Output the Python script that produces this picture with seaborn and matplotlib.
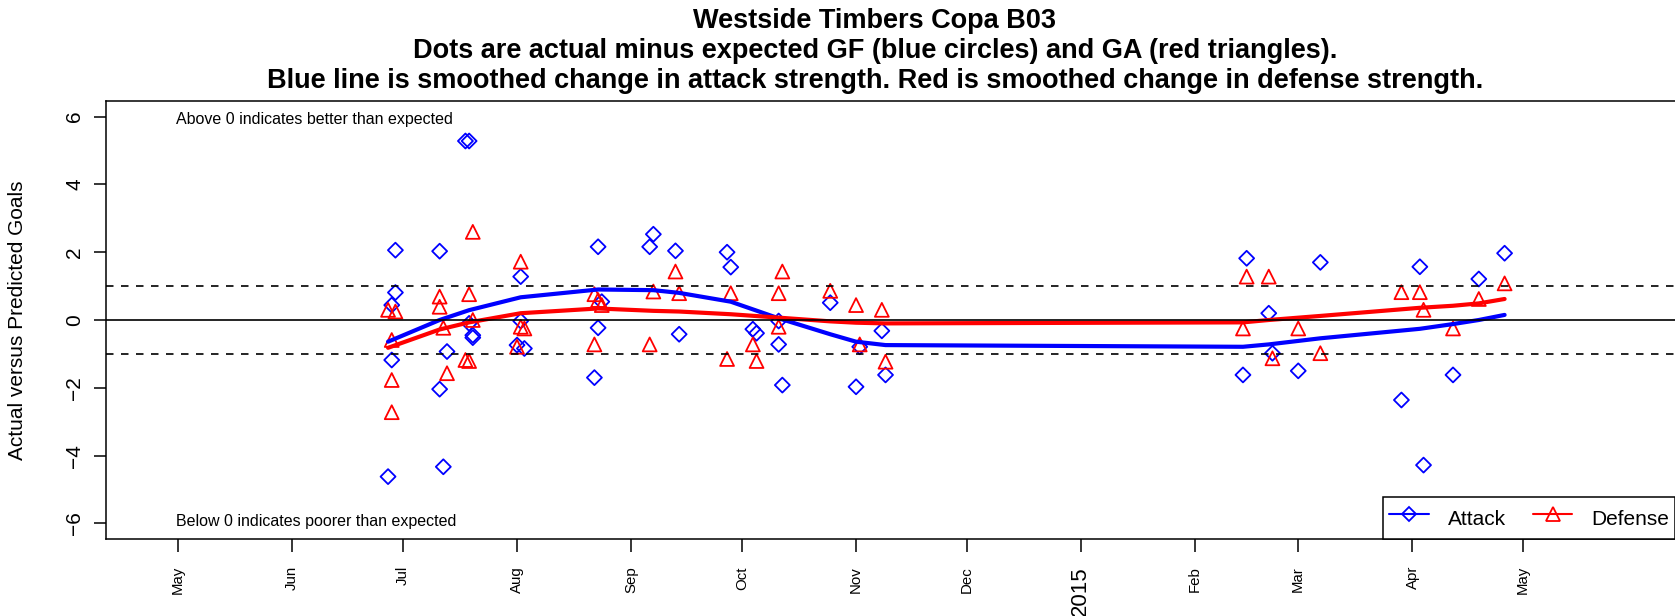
import pandas as pd
import matplotlib
matplotlib.use('Agg')
import matplotlib.pyplot as plt
import matplotlib.dates as mdates
import seaborn as sns
from matplotlib.lines import Line2D

# chart text
title_lines = ['Westside Timbers Copa B03',
               'Dots are actual minus expected GF (blue circles) and GA (red triangles).',
               'Blue line is smoothed change in attack strength. Red is smoothed change in defense strength.']
y_label = 'Actual versus Predicted Goals'
note_above = 'Above 0 indicates better than expected'
note_below = 'Below 0 indicates poorer than expected'

# actual minus expected goals for (attack)
attack_dates = ['2014-06-27', '2014-06-28', '2014-06-28', '2014-06-29', '2014-06-29',
                '2014-07-11', '2014-07-11', '2014-07-12', '2014-07-13', '2014-07-18',
                '2014-07-19', '2014-07-19', '2014-07-20', '2014-07-20', '2014-08-01',
                '2014-08-02', '2014-08-02', '2014-08-03', '2014-08-22', '2014-08-23',
                '2014-08-23', '2014-08-24', '2014-09-06', '2014-09-07', '2014-09-13',
                '2014-09-14', '2014-09-27', '2014-09-28', '2014-10-04', '2014-10-05',
                '2014-10-11', '2014-10-11', '2014-10-12', '2014-10-25', '2014-11-01',
                '2014-11-02', '2014-11-08', '2014-11-09', '2015-02-14', '2015-02-15',
                '2015-02-21', '2015-02-22', '2015-03-01', '2015-03-07', '2015-03-29',
                '2015-04-03', '2015-04-04', '2015-04-12', '2015-04-19', '2015-04-26']
attack_vals = [-4.62, 0.44, -1.18, 2.06, 0.81,
               2.03, -2.04, -4.33, -0.93, 5.28,
               5.28, -0.10, -0.45, -0.52, -0.74,
               1.28, -0.03, -0.84, -1.70, 2.16,
               -0.23, 0.54, 2.16, 2.53, 2.04,
               -0.42, 2.00, 1.56, -0.27, -0.39,
               -0.72, -0.03, -1.92, 0.51, -1.97,
               -0.79, -0.32, -1.62, -1.62, 1.82,
               0.20, -0.98, -1.50, 1.70, -2.36,
               1.57, -4.28, -1.62, 1.21, 1.97]

# actual minus expected goals against (defense)
defense_dates = ['2014-06-27', '2014-06-28', '2014-06-28', '2014-06-28', '2014-06-29',
                 '2014-07-11', '2014-07-11', '2014-07-12', '2014-07-13', '2014-07-18',
                 '2014-07-19', '2014-07-19', '2014-07-20', '2014-07-20', '2014-08-01',
                 '2014-08-02', '2014-08-02', '2014-08-03', '2014-08-22', '2014-08-22',
                 '2014-08-23', '2014-08-24', '2014-09-06', '2014-09-07', '2014-09-13',
                 '2014-09-14', '2014-09-27', '2014-09-28', '2014-10-04', '2014-10-05',
                 '2014-10-11', '2014-10-11', '2014-10-12', '2014-10-25', '2014-11-01',
                 '2014-11-02', '2014-11-08', '2014-11-09', '2015-02-14', '2015-02-15',
                 '2015-02-21', '2015-02-22', '2015-03-01', '2015-03-07', '2015-03-29',
                 '2015-04-03', '2015-04-04', '2015-04-12', '2015-04-19', '2015-04-26']
defense_vals = [0.30, -0.59, -1.77, -2.72, 0.25,
                0.69, 0.39, -0.23, -1.57, -1.18,
                -1.21, 0.76, 2.60, 0.00, -0.79,
                1.72, -0.20, -0.25, -0.72, 0.76,
                0.59, 0.44, -0.72, 0.84, 1.43,
                0.79, -1.15, 0.79, -0.72, -1.21,
                0.79, -0.20, 1.43, 0.86, 0.44,
                -0.72, 0.30, -1.23, -0.25, 1.28,
                1.28, -1.13, -0.25, -0.98, 0.82,
                0.82, 0.30, -0.25, 0.62, 1.08]

# smoothed strength change
smooth_dates = ['2014-06-27', '2014-07-11', '2014-07-19', '2014-08-02', '2014-08-23',
                '2014-09-07', '2014-09-14', '2014-09-28', '2014-10-11', '2014-10-25',
                '2014-11-01', '2014-11-09', '2015-02-14', '2015-02-21', '2015-03-07',
                '2015-04-03', '2015-04-12', '2015-04-19', '2015-04-26']
attack_smooth = [-0.64, 0.00, 0.29, 0.67, 0.90, 0.88, 0.80, 0.54, 0.05, -0.42,
                 -0.64, -0.74, -0.79, -0.72, -0.54, -0.26, -0.12, 0.00, 0.15]
defense_smooth = [-0.82, -0.28, -0.07, 0.20, 0.34, 0.27, 0.25, 0.17, 0.07, -0.04,
                  -0.08, -0.10, -0.07, 0.00, 0.12, 0.36, 0.42, 0.49, 0.62]

tick_dates = pd.date_range('2014-05-01', '2015-05-01', freq='MS')
tick_labels = ['May', 'Jun', 'Jul', 'Aug', 'Sep', 'Oct', 'Nov', 'Dec', '2015',
               'Feb', 'Mar', 'Apr', 'May']
y_ticks = [-6, -4, -2, 0, 2, 4, 6]

att = pd.DataFrame({'date': pd.to_datetime(attack_dates), 'diff': attack_vals})
dfn = pd.DataFrame({'date': pd.to_datetime(defense_dates), 'diff': defense_vals})
smooth = pd.DataFrame({'date': pd.to_datetime(smooth_dates),
                       'attack': attack_smooth, 'defense': defense_smooth})

sns.set_style('white')
plt.rcParams['font.family'] = ['Liberation Sans', 'DejaVu Sans']
plt.rcParams['axes.edgecolor'] = 'black'
plt.rcParams['text.color'] = 'black'
plt.rcParams['xtick.color'] = 'black'
plt.rcParams['ytick.color'] = 'black'

W, H = 1675, 616
fig = plt.figure(figsize=(W / 100, H / 100), dpi=100)
# plot box in pixels: left 106, right runs past the image edge, top 101, bottom 539
left_px, right_px, top_px, bot_px = 106, 1700, 101, 539
ax = fig.add_axes([left_px / W, (H - bot_px) / H, (right_px - left_px) / W, (bot_px - top_px) / H])

# points
sns.scatterplot(data=att, x='date', y='diff', ax=ax, marker='D', s=58,
                color='blue', facecolor='none', edgecolor='blue', linewidth=1.3, zorder=2)
sns.scatterplot(data=dfn, x='date', y='diff', ax=ax, marker='^', s=100,
                color='red', facecolor='none', edgecolor='red', linewidth=1.3, zorder=2)

# smoothed lines
sns.lineplot(data=smooth, x='date', y='attack', ax=ax, color='blue', lw=3,
             estimator=None, sort=False, zorder=3)
sns.lineplot(data=smooth, x='date', y='defense', ax=ax, color='red', lw=3,
             estimator=None, sort=False, zorder=3)

ax.axhline(0, color='black', lw=1.2, zorder=4)
ax.axhline(1, color='black', lw=1.2, ls=(0, (4.5, 4.5)), zorder=4)
ax.axhline(-1, color='black', lw=1.2, ls=(0, (4.5, 4.5)), zorder=4)

# x scale: 3.685 px per day, 1 May 2014 at pixel 178
px_day = 3.685
may1 = mdates.date2num(pd.Timestamp('2014-05-01'))
ax.set_xlim(may1 - (178 - left_px) / px_day, may1 + (right_px - 178) / px_day)
ax.set_ylim(-6.46, 6.46)

ax.set_xticks(tick_dates)
ax.set_xticklabels(tick_labels, rotation=90, fontsize=10.8)
ax.get_xticklabels()[8].set_fontsize(16)
ax.set_yticks(y_ticks)
ax.set_yticklabels([str(v).replace('-', '\u2212') for v in y_ticks],
                   rotation=90, va='center', fontsize=15)
ax.tick_params(axis='both', length=9, width=1.1, direction='out', bottom=True, left=True)
ax.tick_params(axis='x', pad=10.5)
ax.tick_params(axis='y', pad=6.5)
ax.set_xlabel('')
ax.set_ylabel('')
for side in ['top', 'left', 'bottom', 'right']:
    ax.spines[side].set_linewidth(1.1)
    ax.spines[side].set_color('black')

ax.text(may1 - 0.5, 5.9, note_above, fontsize=11.5, ha='left', va='center')
ax.text(may1 - 0.5, -5.93, note_below, fontsize=11.5, ha='left', va='center')

fig.text(18 / W, 1 - 320 / H, y_label, rotation=90, fontsize=15, ha='center', va='center')
for i, line in enumerate(title_lines):
    fig.text(875 / W, 1 - (21 + 30 * i) / H, line, fontsize=19.5, fontweight='bold',
             ha='center', va='center')

handles = [Line2D([], [], color='blue', lw=1.5, marker='D', markersize=7.5,
                  mfc='none', mew=1.3),
           Line2D([], [], color='red', lw=1.5, marker='^', markersize=10,
                  mfc='none', mew=1.3)]
leg = ax.legend(handles, ['Attack', 'Defense'], loc='lower left',
                bbox_to_anchor=((1383 - left_px) / (right_px - left_px), 0),
                borderaxespad=0, ncol=2, fontsize=15, frameon=True, fancybox=False,
                framealpha=1, edgecolor='black', handlelength=1.9, handleheight=1.8,
                handletextpad=0.9, columnspacing=1.3, borderpad=0.3)
leg.get_frame().set_linewidth(1.1)

fig.savefig('out.png', dpi=100)
